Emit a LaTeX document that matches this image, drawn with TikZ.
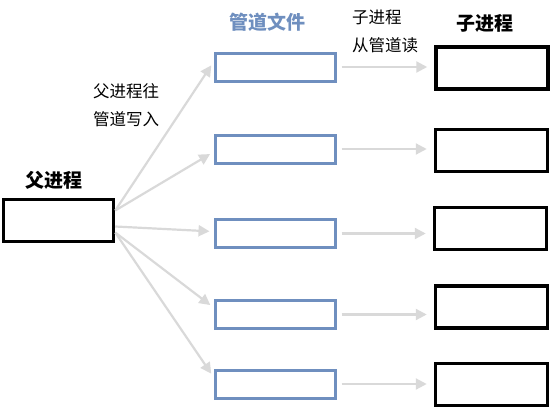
\documentclass[tikz,border=0pt]{standalone}
\usepackage{fontspec}
\setmainfont{Noto Sans CJK SC}
\usetikzlibrary{arrows.meta, positioning}
\definecolor{pipeblue}{RGB}{111,143,191}
\definecolor{arrowgray}{RGB}{217,217,217}

\begin{document}
\begin{tikzpicture}[
  x=1pt, y=-1pt,
  proc/.style={draw=black, line width=3.5pt, minimum width=110pt, minimum height=42pt, inner sep=0pt},
  pipe/.style={draw=pipeblue, line width=3pt, minimum width=120pt, minimum height=28pt, inner sep=0pt},
  title/.style={font=\fontsize{19}{22}\selectfont\bfseries, inner sep=0pt},
  note/.style={font=\fontsize{16.5}{28}\selectfont, align=left, inner sep=0pt},
  arr/.style={-{Triangle[length=11pt, width=11pt]}, line width=2.2pt, draw=arrowgray}
]
\useasboundingbox (0,0) rectangle (559,415);

% parent process
\node[proc] (parent) at (58.5,220.5) {};
\node[title] (parentlbl) at (54,180) {父进程};

% pipe files
\node[pipe] (pipe1) at (275,67) {};
\node[pipe] (pipe2) at (275,149) {};
\node[pipe] (pipe3) at (275,233.5) {};
\node[pipe] (pipe4) at (275,314.5) {};
\node[pipe] (pipe5) at (275,384) {};
\node[title, text=pipeblue] (pipelbl) at (267,22) {管道文件};

% child processes
\node[proc, minimum width=112pt] (child1) at (492,68) {};
\node[proc, minimum width=112pt] (child2) at (491.5,150.5) {};
\node[proc, minimum width=112pt] (child3) at (490.5,228.5) {};
\node[proc, minimum width=112pt] (child4) at (491.5,307) {};
\node[proc, minimum width=112pt] (child5) at (491.5,384.5) {};
\node[title] (childlbl) at (485,23) {子进程};

% notes
\node[note, anchor=west] (writenote) at (93,105) {父进程往\\管道写入};
\node[note, anchor=west] (readnote) at (352,31) {子进程\\从管道读};

% parent writes
\draw[arr, shorten >=4pt] ([yshift=10pt]parent.east) -- ([yshift=5pt]pipe1.west);
\draw[arr, shorten >=4pt] ([yshift=10pt]parent.east) -- ([yshift=-3pt]pipe2.west);
\draw[arr, shorten >=4pt] ([yshift=-6pt]parent.east) -- ([yshift=2pt]pipe3.west);
\draw[arr, shorten >=4pt] ([yshift=-12pt]parent.east) -- ([yshift=7pt]pipe4.west);
\draw[arr, shorten >=4pt] ([yshift=-12pt]parent.east) -- ([yshift=7pt]pipe5.west);

% children read
\draw[arr, shorten <=5pt, shorten >=7pt] (pipe1.east) -- (pipe1.east -| child1.west);
\draw[arr, shorten <=5pt, shorten >=7pt] (pipe2.east) -- (pipe2.east -| child2.west);
\draw[arr, shorten <=5pt, shorten >=7pt] (pipe3.east) -- (pipe3.east -| child3.west);
\draw[arr, shorten <=5pt, shorten >=7pt] (pipe4.east) -- (pipe4.east -| child4.west);
\draw[arr, shorten <=5pt, shorten >=7pt] (pipe5.east) -- (pipe5.east -| child5.west);

\end{tikzpicture}
\end{document}
